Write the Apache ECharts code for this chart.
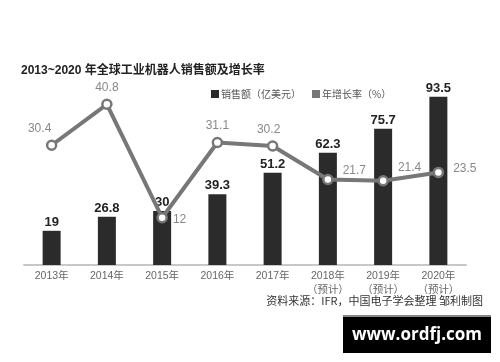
<!DOCTYPE html>
<html><head><meta charset="utf-8">
<script src="https://cdn.jsdelivr.net/npm/echarts@6/dist/echarts.min.js"></script>
<style>html,body{margin:0;padding:0;background:#fff}#c{width:500px;height:362px}</style>
</head><body><div id="c"></div>
<script>
var categories = ['2013年','2014年','2015年','2016年','2017年','2018年\n（预计）','2019年\n（预计）','2020年\n（预计）'];
var salesValues = [19, 26.8, 30, 39.3, 51.2, 62.3, 75.7, 93.5];
var growthValues = [30.4, 40.8, 12, 31.1, 30.2, 21.7, 21.4, 23.5];
var seriesNames = ['销售额（亿美元）', '年增长率（%）'];
var titleText = '2013~2020 年全球工业机器人销售额及增长率';
var sourceText = '资料来源：IFR，中国电子学会整理 邹利制图';
var watermarkText = 'www.ordfj.com';

var FONT = '"Liberation Sans", "Noto Sans CJK SC", sans-serif';
var growthLabelCfg = [
  {position:'top', offset:[-12,0]},
  {position:'top', offset:[0,0]},
  {position:'right', offset:[0,2]},
  {position:'top', offset:[0,0]},
  {position:'top', offset:[-4,0]},
  {position:'right', offset:[4,-9]},
  {position:'right', offset:[4,-13]},
  {position:'right', offset:[4,-4]}
];
var growthData = growthValues.map(function(v,i){
  return {value:v, label:growthLabelCfg[i]};
});

var chart = echarts.init(document.getElementById('c'), null, {renderer:'canvas'});
chart.setOption({
  animation:false,
  backgroundColor:'#fff',
  textStyle:{fontFamily:FONT},
  title:{
    text:titleText, left:16, top:60,
    textStyle:{fontSize:12, fontWeight:'bold', color:'#222', fontFamily:FONT}
  },
  legend:{
    left:206, top:84, itemWidth:8, itemHeight:8, itemGap:11, icon:'rect',
    textStyle:{fontSize:10, color:'#555', padding:[0,0,0,-3], fontFamily:'"Noto Sans CJK SC", sans-serif'},
    data:[{name:seriesNames[0], itemStyle:{color:'#2b2b2b'}},{name:seriesNames[1], itemStyle:{color:'#777', borderWidth:0}}]
  },
  grid:{left:24, width:442, top:85, height:180, containLabel:false},
  xAxis:{
    type:'category', data:categories,
    axisLine:{lineStyle:{color:'#c8c8c8', width:2}},
    axisTick:{show:false},
    axisLabel:{fontSize:10.5, color:'#666', margin:4, lineHeight:14, interval:0, fontFamily:FONT}
  },
  yAxis:[
    {type:'value', min:0, max:100, show:false, splitLine:{show:false}},
    {type:'value', min:0, max:45.7, show:false, splitLine:{show:false}}
  ],
  series:[
    {
      name:seriesNames[0], type:'bar', data:salesValues, barWidth:18,
      itemStyle:{color:'#2b2b2b'},
      label:{show:true, position:'top', distance:2, fontSize:13, fontWeight:'bold', color:'#222', fontFamily:FONT}
    },
    {
      name:seriesNames[1], type:'line', yAxisIndex:1, data:growthData,
      lineStyle:{color:'#777', width:4},
      itemStyle:{color:'#fff', borderColor:'#777', borderWidth:2.5},
      symbol:'circle', symbolSize:9,
      label:{show:true, fontSize:12, color:'#888', distance:5, fontFamily:FONT},
      z:5
    }
  ],
  graphic:[
    {type:'text', right:17, top:295, style:{text:sourceText, fontSize:11, fill:'#333', fontFamily:'"Noto Sans CJK SC", sans-serif'}},
    {type:'rect', shape:{x:343, y:315, width:148, height:2}, style:{fill:'#888'}},
    {type:'rect', shape:{x:343, y:317, width:148, height:36}, style:{fill:'#000'}},
    {type:'text', x:417, y:335, style:{text:watermarkText, fontSize:17, fontWeight:'bold', fill:'#fff', align:'center', verticalAlign:'middle', fontFamily:'"Open Sans", sans-serif'}}
  ]
});
</script></body></html>
